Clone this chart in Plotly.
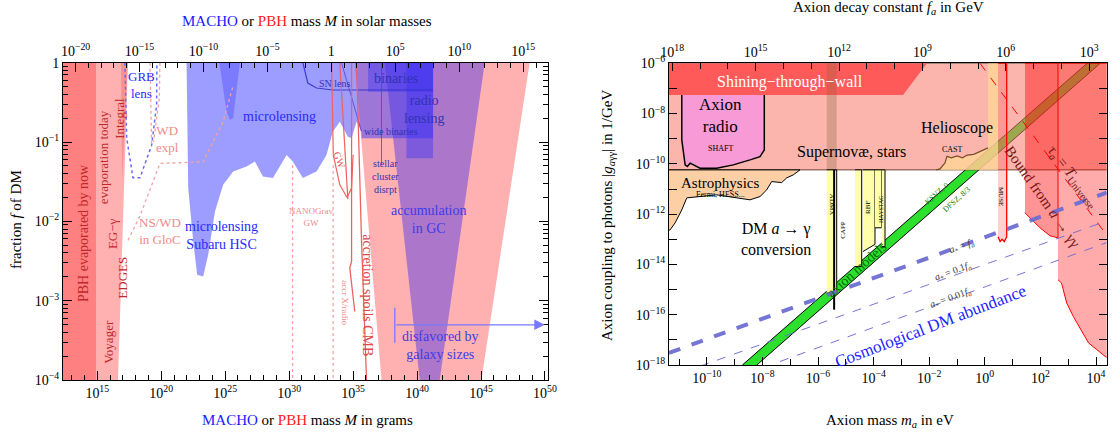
import numpy as np
import plotly.graph_objects as go

FONT = "Liberation Serif"

# ================= LEFT PANEL  (log10 M[g], log10 f) =================
evap_now_logM = [11.0, 14.9, 14.9, 11.0]
evap_now_logf = [0.5, 0.5, -4.5, -4.5]
evap_today_logM = [14.9, 17.40, 16.62, 14.9]
evap_today_logf = [0.0, 0.0, -4.0, -4.0]
integral_logM = [16.85, 17.38, 16.95]
integral_logf = [0.0, 0.0, -1.5]

lensing_logM = [21.98, 22.11, 22.50, 22.81, 23.28, 23.67, 24.20, 24.84, 25.62, 26.67, 27.32,
                27.95, 28.73, 29.80, 30.29, 31.07, 32.14, 32.92, 33.41, 33.96, 34.59, 34.88,
                35.27, 35.66, 35.66, 41.25, 41.25]
lensing_logf = [0.0, -1.58, -2.25, -2.674, -2.695, -2.422, -1.877, -1.54, -1.373, -1.31, -1.247,
                -1.436, -1.452, -1.162, -1.247, -1.452, -1.373, -1.162, -0.869, -0.743, -0.932, -0.948,
                -0.743, -0.869, -0.952, -0.952, 0.0]
eros_logM = [24.54, 25.11, 25.37, 25.62, 26.15]
eros_logf = [0.0, -0.617, -0.72, -0.70, 0.0]
binaries_logM = [36.17, 41.25, 41.25, 36.17]
binaries_logf = [0.0, 0.0, -0.365, -0.365]
radio_logM = [39.17, 41.25, 41.25, 39.17]
radio_logf = [0.0, 0.0, -1.204, -1.204]
snlens_logM = [31.07, 31.46, 32.14, 33.41, 41.25]
snlens_logf = [0.0, -0.256, -0.319, -0.344, -0.344]
cluster_logM = [37.22, 37.22]
cluster_logf = [0.0, -1.288]
widebin_logM = [34.09, 35.66]
widebin_logf = [0.0, -0.869]

galaxy_logM = [35.13, 48.80, 45.03, 37.22]
galaxy_logf = [0.0, 0.0, -4.0, -4.0]
gc_logM = [37.48, 45.29, 41.77, 40.21]
gc_logf = [0.0, 0.0, -4.0, -4.0]

cmb_logM = [35.27, 35.39, 35.66, 36.05]
cmb_logf = [0.0, -0.743, -2.254, -4.0]
xradio_logM = [34.88, 34.88, 34.74, 35.13]
xradio_logf = [0.0, -2.506, -2.586, -3.136]
gw_logM = [33.32, 33.45, 33.96, 34.53, 34.88, 35.0]
gw_logf = [0.0, -1.162, -1.54, -1.70, -1.58, -1.16]
gw2_logM = [33.96, 34.59]
gw2_logf = [0.0, -1.72]
nanograv_logM = [30.27, 33.44]
nanograv_logf = [-1.29, -4.0]

grb_logM = [17.16, 17.30, 17.79, 18.34, 19.25, 19.64, 19.66]
grb_logf = [0.0, -0.95, -1.45, -1.45, -1.04, -0.53, 0.0]
wd1_logM = [19.12, 19.17, 19.25]
wd1_logf = [0.0, -0.66, -1.04]
wd2_logM = [19.90, 19.85, 19.64, 19.40]
wd2_logf = [0.0, -0.45, -0.70, -1.0]
nswd_logM = [17.40, 18.34, 19.90, 23.28, 24.82, 25.6]
nswd_logf = [-2.24, -1.93, -1.27, -1.25, -0.75, -0.3]

size_arrow_logM = [38.26, 49.98]
size_arrow_logf = -3.304
size_bar_logf = [-3.09, -3.53]

left_xtick_exp = [15, 20, 25, 30, 35, 40, 45, 50]
left_top_exp = [-20, -15, -10, -5, 0, 5, 10, 15]
left_ytick_exp = [-4, -3, -2, -1, 0]
LOG_MSUN_G = 33.3

# ================= RIGHT PANEL (log10 m_a[eV], log10 g[1/GeV]) =================
stw_logm = [-11.6, -2.08, -2.94, -11.6]
stw_logg = [-6.0, -6.0, -7.259, -7.259]
stars_logm = [-11.6, 4.6, 4.6, -11.6]
stars_logg = [-6.0, -6.0, -10.239, -10.239]
helio_logm = [-1.612, -1.432, -1.36, -0.64, -0.173, 0.115, 0.115, 0.475, 0.475]
helio_logg = [-10.239, -9.961, -9.723, -9.723, -9.525, -9.365, -6.0, -6.0, -10.239]
cast_logm = [-1.75, -1.612, -1.432, -1.36, -1.2, -1.0, -0.8, -0.64, -0.4, -0.173, 0.115]
cast_logg = [-10.24, -10.20, -9.961, -9.70, -9.76, -9.68, -9.76, -9.65, -9.62, -9.50, -9.365]
astro_logm = [-11.6, -6.648, -6.889, -7.126, -7.306, -7.666, -7.846, -8.087, -8.446, -9.644,
              -10.72, -10.90, -11.14, -11.32, -11.6]
astro_logg = [-10.239, -10.239, -10.438, -10.557, -10.744, -10.704, -11.034, -11.30, -11.431, -11.232,
              -11.352, -11.828, -12.345, -12.623, -12.75]
shaft_logm = [-10.90, -10.90, -10.78, -10.70, -10.60, -10.245, -9.644, -9.047, -8.446, -8.087, -7.932, -7.932]
shaft_logg = [-7.259, -9.047, -10.04, -10.108, -9.973, -10.172, -10.172, -10.04, -9.842, -9.711, -9.445, -7.259]

admx_logm = [-5.687, -5.328, -5.328, -5.687]
admx_logg = [-10.239, -10.239, -15.138, -15.138]
admx_tail_logm = [-5.42, -5.42]
admx_tail_logg = [-10.239, -15.80]
admx_top_logm = [-5.687, -5.328, -5.328, -5.687]
admx_top_logg = [-6.0, -6.0, -10.239, -10.239]
capp_logm = [-4.67, -4.428, -4.428, -4.67]
capp_logg = [-10.239, -10.239, -14.081, -14.081]
rbf_logm = [-4.381, -3.95, -3.95, -4.381]
rbf_logg = [-10.239, -10.239, -13.2, -13.485]
uf_logm = [-3.95, -3.709, -3.709, -3.95]
uf_logg = [-10.239, -10.239, -12.543, -12.543]
haystac_logm = [-3.709, -3.59, -3.59, -3.709]
haystac_logg = [-10.239, -10.239, -13.287, -13.287]
muse_logm = [0.475, 0.788, 0.788, 0.70, 0.62, 0.55, 0.475]
muse_logg = [-6.0, -6.0, -12.9, -13.09, -13.0, -13.09, -12.9]

bound_logm = [1.446, 2.633, 2.633, 2.345, 1.985, 1.446]
bound_logg = [-6.0, -6.0, -12.941, -12.861, -12.543, -11.948]
xray_logm = [2.633, 4.6, 4.6, 4.33, 4.03, 3.73, 3.49, 3.185, 2.946, 2.76, 2.633]
xray_logg = [-6.0, -6.0, -17.8, -17.66, -17.39, -17.12, -16.66, -16.07, -15.535, -14.74, -14.609]
tau_logm = [-0.173, 4.33]
tau_logg = [-6.0, -12.754]

band_logm = [-8.72, 3.68, 4.15, -8.20]
band_logg = [-18.0, -6.0, -6.0, -18.0]

cosmo_logm = [-11.36, 4.385]
cosmo_logg = [-17.52, -11.143]
cosmo01_logm = [-10.245, 4.385]
cosmo01_logg = [-18.05, -12.27]
cosmo001_logm = [-7.367, 4.385]
cosmo001_logg = [-17.86, -13.13]

right_xtick_exp = [-10, -8, -6, -4, -2, 0, 2, 4]
right_top_exp = [18, 15, 12, 9, 6, 3]
right_ytick_exp = [-18, -16, -14, -12, -10, -8, -6]
LOG_FA_TIMES_MA = 6.756   # m_a[eV] * f_a[GeV] ~ 5.7e6

XL_RANGE = [12.32, 50.26]
YL_RANGE = [-4.0, 0.0]
XR_RANGE = [-11.36, 4.385]
YR_RANGE = [-18.0, -6.0]

fig = go.Figure()


def P(v):
    return np.power(10.0, np.asarray(v, dtype=float))


def poly(lx, ly, side, fill, lc=None, lw=0, dash=None):
    xa, ya = ("x", "y") if side == "L" else ("x3", "y2")
    fig.add_trace(go.Scatter(
        x=P(lx), y=P(ly), xaxis=xa, yaxis=ya,
        mode="lines", fill="toself", fillcolor=fill,
        line=dict(color=lc if lc else "rgba(0,0,0,0)", width=lw, dash=dash),
        hoverinfo="skip", showlegend=False))


def line(lx, ly, side, color, width=1, dash=None):
    xa, ya = ("x", "y") if side == "L" else ("x3", "y2")
    fig.add_trace(go.Scatter(
        x=P(lx), y=P(ly), xaxis=xa, yaxis=ya, mode="lines",
        line=dict(color=color, width=width, dash=dash),
        hoverinfo="skip", showlegend=False))


# ---------- left panel shapes ----------
poly(evap_now_logM, evap_now_logf, "L", "#ff8080")
poly(evap_today_logM, evap_today_logf, "L", "#ffb0b0")
poly(integral_logM, integral_logf, "L", "rgba(235,90,90,0.35)")
poly(galaxy_logM, galaxy_logf, "L", "rgba(255,80,80,0.45)")
poly(lensing_logM, lensing_logf, "L", "rgba(60,60,255,0.5)")
poly(eros_logM, eros_logf, "L", "rgba(60,60,255,0.35)")
poly(binaries_logM, binaries_logf, "L", "rgba(40,40,255,0.35)")
poly(radio_logM, radio_logf, "L", "rgba(40,40,255,0.4)")
poly(gc_logM, gc_logf, "L", "rgba(70,50,235,0.45)")
line(snlens_logM, snlens_logf, "L", "rgba(50,50,200,0.9)", 1.2)
line(cluster_logM, cluster_logf, "L", "rgba(70,70,220,0.8)", 1)
line(widebin_logM, widebin_logf, "L", "rgba(70,70,220,0.8)", 1)
line(cmb_logM, cmb_logf, "L", "#f06060", 1.3)
line(xradio_logM, xradio_logf, "L", "#f06060", 1.3)
line(gw_logM, gw_logf, "L", "#f06060", 1.2)
line(gw2_logM, gw2_logf, "L", "#f06060", 1.2)
for lm in nanograv_logM:
    line([lm, lm], nanograv_logf, "L", "#f4a0a0", 1.2, "dot")
line(grb_logM, grb_logf, "L", "#6a6aff", 1.5, "dot")
line(wd1_logM, wd1_logf, "L", "#f4a0a0", 1.3, "dot")
line(wd2_logM, wd2_logf, "L", "#f4a0a0", 1.3, "dot")
line(nswd_logM, nswd_logf, "L", "#f4a0a0", 1.3, "dot")
line([size_arrow_logM[0]] * 2, size_bar_logf, "L", "#7878ff", 1.3)

# ---------- right panel shapes ----------
poly(band_logm, band_logg, "R", "#2ee02e", "black", 1)
poly(stars_logm, stars_logg, "R", "rgba(250,120,105,0.55)", "rgba(90,60,40,0.9)", 1)
poly(stw_logm, stw_logg, "R", "#ff5a5a")
poly(helio_logm, helio_logg, "R", "rgba(255,215,150,0.75)")
line(cast_logm, cast_logg, "R", "rgb(120,80,40)", 1.2)
poly(astro_logm, astro_logg, "R", "#fccfa5", "black", 1)
poly(shaft_logm, shaft_logg, "R", "#f79ad6", "black", 1.5)
poly(admx_top_logm, admx_top_logg, "R", "rgba(140,100,60,0.3)")
for bx, by in [(admx_logm, admx_logg), (capp_logm, capp_logg), (rbf_logm, rbf_logg),
               (uf_logm, uf_logg), (haystac_logm, haystac_logg)]:
    poly(bx, by, "R", "#ffffaa", "black", 1)
line(admx_tail_logm, admx_tail_logg, "R", "black", 2)
poly(muse_logm, muse_logg, "R", "rgba(255,70,70,0.25)", "red", 1.3)
poly(bound_logm, bound_logg, "R", "rgba(255,0,0,0.42)", "red", 1)
poly(xray_logm, xray_logg, "R", "rgba(255,0,0,0.33)", "red", 1)
line(tau_logm, tau_logg, "R", "red", 1, "dash")
line(cosmo_logm, cosmo_logg, "R", "rgba(110,110,210,0.95)", 4, "dash")
line(cosmo01_logm, cosmo01_logg, "R", "rgba(110,110,210,0.95)", 1, "dash")
line(cosmo001_logm, cosmo001_logg, "R", "rgba(110,110,210,0.95)", 1, "dash")

# invisible traces so that the top axes are drawn
fig.add_trace(go.Scatter(x=[1.0], y=[0.01], xaxis="x2", yaxis="y", mode="markers",
                         marker=dict(opacity=0), hoverinfo="skip", showlegend=False))
fig.add_trace(go.Scatter(x=[1e10], y=[1e-12], xaxis="x4", yaxis="y2", mode="markers",
                         marker=dict(opacity=0), hoverinfo="skip", showlegend=False))


def pw(e, one=True):
    if e == 0 and one:
        return "1"
    s = str(e).replace("-", "\u2212")
    return f"10<sup>{s}</sup>"


TICKFONT = dict(family=FONT, size=14, color="black")
common = dict(type="log", showgrid=False, zeroline=False, showline=True, linecolor="black",
              linewidth=1, ticks="inside", tickcolor="black", tickfont=TICKFONT,
              automargin=False)

xl_minor = [10.0 ** e for e in range(12, 51)]
fig.update_layout(
    template="none",
    xaxis=dict(**common, domain=[63 / 1114, 548.3 / 1114], range=XL_RANGE, anchor="y",
               tickvals=[10.0 ** e for e in left_xtick_exp],
               ticktext=[pw(e) for e in left_xtick_exp], ticklen=9,
               minor=dict(tickvals=xl_minor, ticklen=5, ticks="inside", tickcolor="black")),
    xaxis2=dict(**common, domain=[63 / 1114, 548.3 / 1114],
                range=[XL_RANGE[0] - LOG_MSUN_G, XL_RANGE[1] - LOG_MSUN_G],
                overlaying="x", side="top", anchor="y",
                tickvals=[10.0 ** e for e in left_top_exp],
                ticktext=[pw(e) for e in left_top_exp], ticklen=9,
                minor=dict(tickvals=[10.0 ** e for e in range(-21, 18)], ticklen=5,
                           ticks="inside", tickcolor="black")),
    yaxis=dict(**common, domain=[1 - 380 / 435, 1 - 62.7 / 435], range=YL_RANGE, anchor="x",
               mirror="ticks",
               tickvals=[10.0 ** e for e in left_ytick_exp],
               ticktext=[pw(e) for e in left_ytick_exp], ticklen=9,
               minor=dict(tickvals=[k * 10.0 ** e for e in range(-4, 0) for k in range(2, 10)],
                          ticklen=5, ticks="inside", tickcolor="black")),
    xaxis3=dict(**common, domain=[669 / 1114, 1106.7 / 1114], range=XR_RANGE, anchor="y2",
                tickvals=[10.0 ** e for e in right_xtick_exp],
                ticktext=[pw(e, one=False) for e in right_xtick_exp], ticklen=8,
                minor=dict(tickvals=[10.0 ** e for e in range(-11, 5, 2)], ticklen=6,
                           ticks="inside", tickcolor="black")),
    xaxis4=dict(**common, domain=[669 / 1114, 1106.7 / 1114],
                range=[LOG_FA_TIMES_MA - XR_RANGE[0], LOG_FA_TIMES_MA - XR_RANGE[1]],
                overlaying="x3", side="top", anchor="y2",
                tickvals=[10.0 ** e for e in right_top_exp],
                ticktext=[pw(e) for e in right_top_exp], ticklen=8,
                minor=dict(tickvals=[10.0 ** e for e in range(2, 19)], ticklen=6,
                           ticks="inside", tickcolor="black")),
    yaxis2=dict(**common, domain=[1 - 365 / 435, 1 - 63.3 / 435], range=YR_RANGE, anchor="x3",
                mirror="ticks",
                tickvals=[10.0 ** e for e in right_ytick_exp],
                ticktext=[pw(e) for e in right_ytick_exp], ticklen=8,
                minor=dict(tickvals=[10.0 ** e for e in range(-17, -6, 2)], ticklen=8,
                           ticks="inside", tickcolor="black")),
)

ann = []


def lab(text, x, y, side, size, color, angle=0, xanchor="center"):
    xr, yr = ("x", "y") if side == "L" else ("x3", "y2")
    ann.append(dict(text=text, x=x, y=y, xref=xr, yref=yr, showarrow=False,
                    font=dict(family=FONT, size=size, color=color), textangle=angle,
                    xanchor=xanchor, yanchor="middle"))


DR = "#c0282d"
BL = "#2a2aff"
PK = "#f08a8a"
DB = "#3232b4"
# left labels
lab("PBH evaporated by now", 13.88, -2.148, "L", 14, DR, -90)
lab("evaporation today", 15.45, -1.19, "L", 13, DR, -90)
lab("Integral", 16.77, -0.696, "L", 13, DR, -90)
lab("EG\u2212\u03b3", 16.15, -2.148, "L", 13, DR, -90)
lab("EDGES", 17.01, -2.71, "L", 13, DR, -90)
lab("Voyager", 15.91, -3.52, "L", 13, DR, -90)
lab("GRB<br>lens", 18.47, -0.28, "L", 13, BL)
lab("WD<br>expl", 20.52, -0.96, "L", 13, PK)
lab("NS/WD<br>in GloC", 19.90, -2.12, "L", 13, PK)
lab("microlensing<br>Subaru HSC", 24.72, -2.18, "L", 14, BL)
lab("microlensing", 29.27, -0.684, "L", 14, BL)
lab("SN lens", 33.57, -0.268, "L", 10, DB)
lab("binaries", 38.39, -0.193, "L", 14, DB)
lab("radio<br>lensing", 40.52, -0.596, "L", 14, DB)
lab("wide binaries", 37.99, -0.869, "L", 10, DB)
lab("stellar<br>cluster<br>disrpt", 36.3, -1.44, "L", 10, DB, 0, "left")
lab("GW", 33.96, -1.23, "L", 10, "#e05050", 70)
lab("NANOGrav<br>GW", 31.70, -1.95, "L", 9, PK)
lab("accretion spoils CMB", 36.15, -2.93, "L", 14, "#e04848", 90)
lab("accr X/radio", 34.35, -3.03, "L", 9, PK, 90)
lab("accumulation<br>in GC", 40.91, -1.98, "L", 14, "#3c3ce6")
lab("disfavored by<br>galaxy sizes", 41.85, -3.56, "L", 14, "#3c3ce6")
ann.append(dict(text="", x=size_arrow_logM[1], y=size_arrow_logf, ax=size_arrow_logM[0],
                ay=size_arrow_logf, xref="x", yref="y", axref="x", ayref="y", showarrow=True,
                arrowhead=2, arrowsize=1.6, arrowwidth=1.3, arrowcolor="#7878ff"))

# right labels
lab("Shining\u2212through\u2212wall", -7.007, -6.731, "R", 16, "white")
lab("Axion<br>radio", -9.525, -8.09, "R", 17, "black")
lab("SHAFT", -9.525, -9.405, "R", 8, "black")
lab("Astrophysics", -9.525, -10.744, "R", 15, "black")
lab("Fermi, HESS...", -9.525, -11.232, "R", 8, "black")
lab("Supernov\u00e6, stars", -4.788, -9.512, "R", 16, "black")
lab("Helioscope", -1.011, -8.582, "R", 16, "black")
lab("CAST", -1.15, -9.43, "R", 8, "black")
lab("DM <i>a</i> \u2192 \u03b3<br>conversion", -7.511, -13.0, "R", 16, "black")
lab("axion models", -4.60, -14.2, "R", 14, "#007000", -42)
lab("KSVZ, 0", -1.731, -11.165, "R", 8, "#108010", -42)
lab("DFSZ, 8/3", -1.011, -11.431, "R", 8, "#108010", -42)
lab("<i>a</i><sub>*</sub> = <i>f<sub>a</sub></i>", -0.832, -13.287, "R", 10, "#404040", -20)
lab("<i>a</i><sub>*</sub> = 0.1<i>f<sub>a</sub></i>", -1.133, -14.28, "R", 10, "#404040", -20)
lab("<i>a</i><sub>*</sub> = 0.01<i>f<sub>a</sub></i>", -1.252, -15.336, "R", 10, "#404040", -20)
lab("Cosmological DM abundance", -1.971, -16.465, "R", 17, "#1e1eff", -21)
lab("Bound from <i>a</i> \u2192 \u03b3\u03b3", 2.093, -11.30, "R", 15, "#781414", 55)
lab("\u03c4<sub><i>a</i></sub> = <i>T</i><sub>Universe</sub>", 3.173, -10.517, "R", 15, "#781414", 52)
lab("ADMX", -5.497, -11.63, "R", 7, "black", 90)
lab("CAPP", -5.101, -12.623, "R", 7, "black", -90)
lab("RBF", -4.20, -11.75, "R", 7, "black", -90)
lab("HAYSTAC", -3.73, -11.83, "R", 6, "black", -90)
lab("MUSE", 0.58, -11.31, "R", 7, "black", 90)

# axis titles
TF = dict(family=FONT, size=15, color="black")


def title(text, px, py, angle=0):
    ann.append(dict(text=text, x=px / 1114, y=1 - py / 435, xref="paper", yref="paper",
                    showarrow=False, font=TF, textangle=angle,
                    xanchor="center", yanchor="middle"))


title("<span style='color:#1a1aff'>MACHO</span> or <span style='color:#ff1a1a'>PBH</span> mass <i>M</i> in grams", 307, 420)
title("<span style='color:#1a1aff'>MACHO</span> or <span style='color:#ff1a1a'>PBH</span> mass <i>M</i> in solar masses", 307, 21)
title("fraction <i>f</i> of DM", 16, 220, -90)
title("Axion decay constant <i>f<sub>a</sub></i> in GeV", 888, 8)
title("Axion mass <i>m<sub>a</sub></i> in eV", 890, 421)
title("Axion coupling to photons |<i>g</i><sub><i>a</i>\u03b3\u03b3</sub>| in 1/GeV", 608, 215, -90)

fig.update_layout(width=1114, height=435, margin=dict(l=0, r=0, t=0, b=0, autoexpand=False),
                  paper_bgcolor="white", plot_bgcolor="white", showlegend=False,
                  annotations=ann, font=dict(family=FONT))
fig.write_html("out.html", config={"displayModeBar": False, "staticPlot": True},
               post_script="document.body.style.margin='0';document.body.style.overflow='hidden';")
